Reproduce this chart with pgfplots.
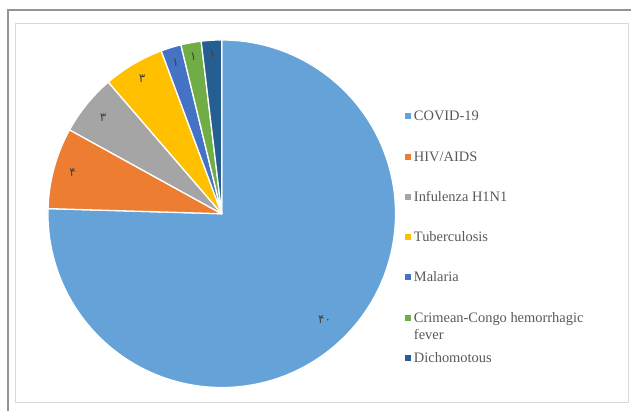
\documentclass[border=0pt]{standalone}
\usepackage{pgfplots}
\pgfplotsset{compat=1.18}
\usepackage{pgfplotstable}
\usepackage{fontspec}
\setmainfont{Liberation Serif}
\newfontfamily\fafont[Script=Arabic]{DejaVu Sans}

\definecolor{cCovid}{HTML}{65A2D7}
\definecolor{cHiv}{HTML}{ED7D31}
\definecolor{cFlu}{HTML}{A5A5A5}
\definecolor{cTb}{HTML}{FFC000}
\definecolor{cMal}{HTML}{4472C4}
\definecolor{cCch}{HTML}{70AD47}
\definecolor{cDich}{HTML}{255E91}
\definecolor{txtgray}{HTML}{595959}
\definecolor{lblgray}{HTML}{404040}

% number -> Persian (extended Arabic-Indic) digits
\def\faNum#1{\faNumA#1\relax}
\def\faNumA#1{\ifx#1\relax\else\char\numexpr"06F0+#1\relax\expandafter\faNumA\fi}
\def\labfont{\fafont\fontsize{12}{14}\selectfont}

% slices clockwise from 12 o'clock
\pgfplotstableread{
value col pos
40 cCovid 0.85
4 cHiv 0.89
3 cFlu 0.88
3 cTb 0.90
1 cMal 0.91
1 cCch 0.92
1 cDich 0.92
}\piedata

\begin{document}
\begin{tikzpicture}
\path (0,0) rectangle (632bp,411bp);
% frames
\draw[color=black!42, line width=1.5bp] (8bp,0) -- (8bp,401bp) -- (632bp,401bp);
\draw[color=black!15, line width=1bp] (15.5bp,8bp) rectangle (629bp,387.5bp);

% slice angles from the table
\pgfplotstablegetrowsof{\piedata}
\pgfmathtruncatemacro\nlast{\pgfplotsretval-1}
\gdef\total{0}
\foreach \i in {0,...,\nlast}{
    \pgfplotstablegetelem{\i}{value}\of\piedata
    \pgfmathsetmacro\newtotal{\total+\pgfplotsretval}
    \xdef\total{\newtotal}
}
\gdef\acc{0}
\foreach \i in {0,...,\nlast}{
    \pgfplotstablegetelem{\i}{value}\of\piedata \let\v\pgfplotsretval
    \pgfplotstablegetelem{\i}{col}\of\piedata \let\c\pgfplotsretval
    \pgfplotstablegetelem{\i}{pos}\of\piedata \let\p\pgfplotsretval
    \pgfmathsetmacro\sa{90-\acc/\total*360}
    \pgfmathsetmacro\ea{90-(\acc+\v)/\total*360}
    \pgfmathsetmacro\ma{(\sa+\ea)/2}
    \expandafter\xdef\csname sa\i\endcsname{\sa}
    \expandafter\xdef\csname ea\i\endcsname{\ea}
    \expandafter\xdef\csname ma\i\endcsname{\ma}
    \expandafter\xdef\csname v\i\endcsname{\v}
    \expandafter\xdef\csname col\i\endcsname{\c}
    \expandafter\xdef\csname p\i\endcsname{\p}
    \pgfmathsetmacro\newacc{\acc+\v}
    \xdef\acc{\newacc}
}

\begin{axis}[
    at={(222bp,197bp)}, anchor=center,
    width=348bp, height=348bp, scale only axis,
    xmin=-1, xmax=1, ymin=-1, ymax=1,
    hide axis, clip=false,
    legend cell align=left,
    legend image code/.code={\fill[#1] (0bp,-1.2bp) rectangle (5bp,3.8bp);},
    legend style={
        at={(1.026,0.796)}, anchor=north west,
        draw=none, fill=none, inner sep=0pt, outer sep=0pt,
        row sep=27.3bp, column sep=4bp,
        font=\fontsize{14.5}{17}\selectfont, text=txtgray,
        nodes={inner sep=0pt, text height=10bp, text depth=3bp},
    },
]
\pgfplotsinvokeforeach{0,...,6}{%
    \edef\temp{%
        \noexpand\filldraw[fill=\csname col#1\endcsname, draw=white, line width=1.3bp, line join=round]
            (axis cs:0,0) -- (axis cs:{cos(\csname sa#1\endcsname)},{sin(\csname sa#1\endcsname)})
            arc[start angle=\csname sa#1\endcsname, end angle=\csname ea#1\endcsname, radius=174bp] -- cycle;
        \noexpand\node[text=lblgray, font=\noexpand\labfont]
            at (axis cs:{\csname p#1\endcsname*cos(\csname ma#1\endcsname)},{\csname p#1\endcsname*sin(\csname ma#1\endcsname)})
            {\noexpand\faNum{\csname v#1\endcsname}};%
    }%
    \temp
}
\addlegendimage{cCovid}\addlegendentry{COVID-19}
\addlegendimage{cHiv}\addlegendentry{HIV/AIDS}
\addlegendimage{cFlu}\addlegendentry{Infulenza H1N1}
\addlegendimage{cTb}\addlegendentry{Tuberculosis}
\addlegendimage{cMal}\addlegendentry{Malaria}
\addlegendimage{cCch}\addlegendentry{\parbox[t]{200bp}{Crimean-Congo hemorrhagic\\fever}}
\addlegendimage{cDich}\addlegendentry{Dichomotous}
\end{axis}
\end{tikzpicture}
\end{document}
